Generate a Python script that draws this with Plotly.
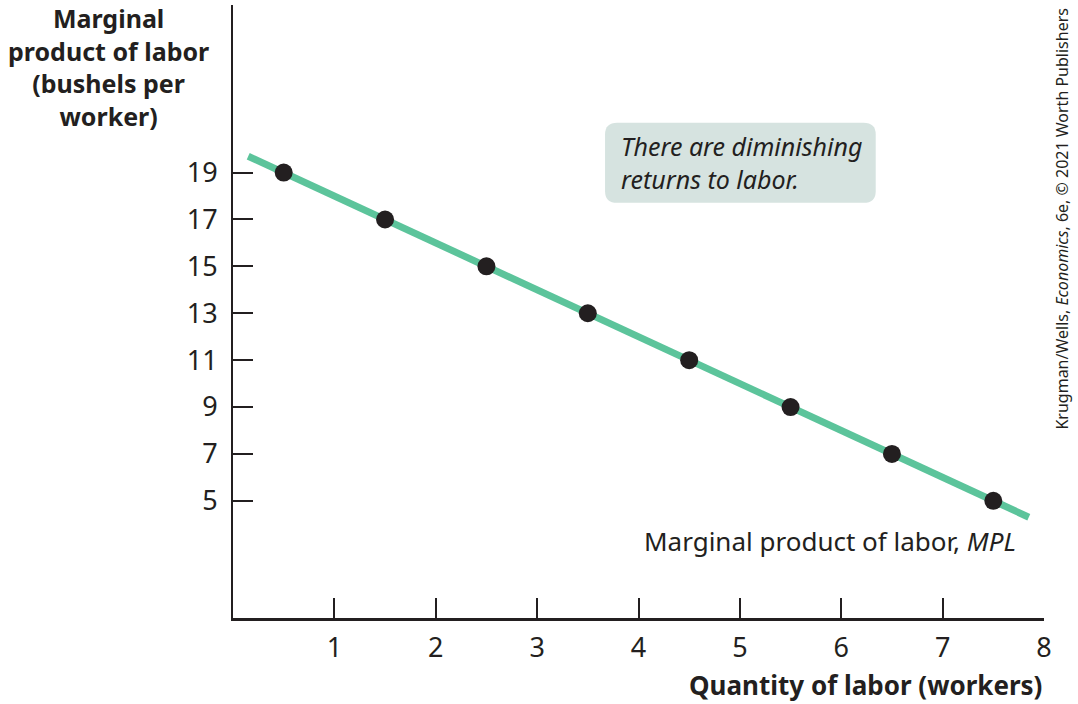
import plotly.graph_objects as go

# Data: marginal product of labor
workers = [0.5, 1.5, 2.5, 3.5, 4.5, 5.5, 6.5, 7.5]
mpl = [19, 17, 15, 13, 11, 9, 7, 5]
line_x = [0.15, 7.85]
line_y = [19.7, 4.3]
x_ticks = [1, 2, 3, 4, 5, 6, 7, 8]
y_ticks = [5, 7, 9, 11, 13, 15, 17, 19]

FONT = "Noto Sans"
INK = "#231f20"
GREEN = "#5cc49b"

fig = go.Figure()

fig.add_trace(go.Scatter(x=line_x, y=line_y, mode='lines',
                         line=dict(color=GREEN, width=7), hoverinfo='skip'))
fig.add_trace(go.Scatter(x=workers, y=mpl, mode='markers',
                         marker=dict(color=INK, size=18)))

# rounded box behind the note
x0, x1, y0, y1 = 3.67, 6.34, 17.71, 21.13
rx, ry = 0.12, 0.5
box = (f"M {x0+rx},{y0} L {x1-rx},{y0} Q {x1},{y0} {x1},{y0+ry} "
       f"L {x1},{y1-ry} Q {x1},{y1} {x1-rx},{y1} L {x0+rx},{y1} "
       f"Q {x0},{y1} {x0},{y1-ry} L {x0},{y0+ry} Q {x0},{y0} {x0+rx},{y0} Z")
fig.add_shape(type='path', path=box, xref='x', yref='y',
              fillcolor='#d6e3e0', line=dict(width=0), layer='below')

fig.update_layout(
    width=1078, height=704,
    margin=dict(l=233, r=34, t=5, b=86),
    plot_bgcolor='white', paper_bgcolor='white',
    showlegend=False,
    font=dict(family=FONT, color=INK, size=26),
    xaxis=dict(range=[0, 8], tickvals=x_ticks, ticks='inside', ticklen=20,
               tickwidth=2, tickcolor=INK, showline=True, linecolor=INK,
               linewidth=3, showgrid=False, zeroline=False,
               tickfont=dict(size=27), ticklabelstandoff=4, fixedrange=True),
    yaxis=dict(range=[0, 26.15], tickvals=y_ticks, ticks='inside', ticklen=20,
               tickwidth=2, tickcolor=INK, showline=True, linecolor=INK,
               linewidth=2, showgrid=False, zeroline=False,
               tickfont=dict(size=27), ticklabelstandoff=8, fixedrange=True),
)

annos = [
    dict(text="0", x=-0.21, y=-1.18, xref='x', yref='y', showarrow=False,
         font=dict(size=27), yanchor='middle'),
    dict(text="<b>Marginal<br>product of labor<br>(bushels per<br>worker)</b>",
         x=-0.153, y=0.899, xref='paper', yref='paper', xanchor='center',
         yanchor='middle', align='center', showarrow=False,
         font=dict(size=25)),
    dict(text="<b>Quantity of labor (workers)</b>", x=1.0, y=-0.11,
         xref='paper', yref='paper', xanchor='right', yanchor='middle',
         showarrow=False, font=dict(size=26)),
    dict(text="<i>There are diminishing<br>returns to labor.</i>",
         x=3.81, y=19.42, xref='x', yref='y', xanchor='left', yanchor='middle',
         align='left', showarrow=False, font=dict(size=25)),
    dict(text="Marginal product of labor, <i>MPL</i>", x=7.74, y=3.3,
         xref='x', yref='y', xanchor='right', yanchor='middle',
         showarrow=False, font=dict(size=26)),
    dict(text="Krugman/Wells, <i>Economics</i>, 6e, © 2021 Worth Publishers",
         x=1.0225, y=0.652, xref='paper', yref='paper', textangle=-90,
         xanchor='center', yanchor='middle', showarrow=False,
         font=dict(size=16)),
]
for a in annos:
    fig.add_annotation(**a)

fig.write_html("out.html", config={'displayModeBar': False},
               post_script="document.body.style.margin='0';")
